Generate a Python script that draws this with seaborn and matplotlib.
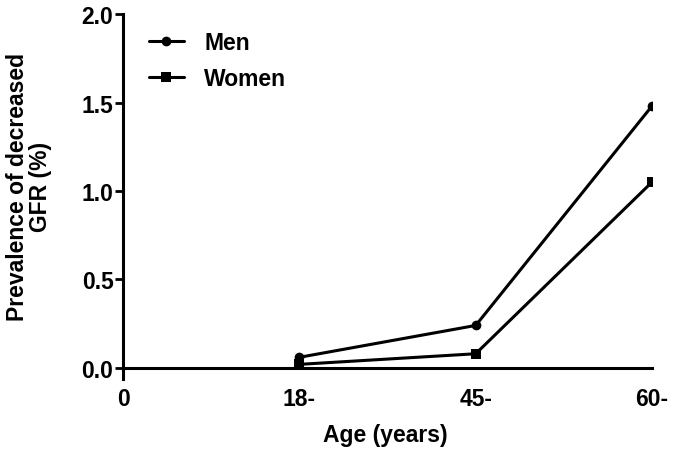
import numpy as np
import pandas as pd
import seaborn as sns
import matplotlib.pyplot as plt

# Data
age_groups = ["0", "18-", "45-", "60-"]
data_groups = ["18-", "45-", "60-"]
men = [0.06, 0.24, 1.48]
women = [0.02, 0.08, 1.05]

df = pd.DataFrame({
    "age": data_groups * 2,
    "pos": [age_groups.index(a) for a in data_groups] * 2,
    "prev": men + women,
    "sex": ["Men"] * 3 + ["Women"] * 3,
})

sns.set_style("ticks", {"axes.edgecolor": "black", "text.color": "black",
                        "axes.labelcolor": "black", "xtick.color": "black",
                        "ytick.color": "black"})
plt.rcParams["font.family"] = ["Liberation Sans", "DejaVu Sans"]
plt.rcParams["font.weight"] = "bold"
fs = 16.5

fig, ax = plt.subplots(figsize=(6.77, 4.56), dpi=100)
fig.subplots_adjust(left=0.182, right=0.963, top=0.967, bottom=0.191)

sns.lineplot(data=df, x="pos", y="prev", hue="sex", style="sex",
             markers={"Men": "o", "Women": "s"}, dashes=False,
             palette={"Men": "black", "Women": "black"},
             linewidth=2.2, markersize=7, markeredgewidth=0, ax=ax)

ax.set_xlim(0, 3)
ax.set_ylim(0, 2.0)
ax.set_xticks(range(len(age_groups)))
ax.set_xticklabels(age_groups, fontsize=fs, fontweight="bold")
ax.set_yticks([0, 0.5, 1.0, 1.5, 2.0])
ax.set_yticklabels(["0.0", "0.5", "1.0", "1.5", "2.0"], fontsize=fs, fontweight="bold")
ax.tick_params(axis="x", length=0, pad=14, colors="black")
ax.tick_params(axis="y", length=6, width=2, pad=1, colors="black")

sns.despine(ax=ax)
ax.spines["left"].set_linewidth(2.2)
ax.spines["bottom"].set_linewidth(2.2)
ax.spines["left"].set_bounds(-0.06, 2.0)
ax.spines["left"].set_clip_on(False)

ax.set_xlabel("Age (years)", fontsize=fs, fontweight="bold")
ax.set_ylabel("Prevalence of decreased\nGFR (%)", fontsize=fs, fontweight="bold",
              linespacing=1.0)
ax.xaxis.set_label_coords(0.495, -0.155)
ax.yaxis.set_label_coords(-0.135, 0.514)

leg = ax.legend(title=None, loc="upper left", bbox_to_anchor=(0.01, 1.01),
                frameon=False, fontsize=fs, handlelength=1.5,
                handletextpad=0.9, labelspacing=0.55)
for t in leg.get_texts():
    t.set_fontweight("bold")
    t.set_color("black")

fig.savefig("out.png", dpi=100)
